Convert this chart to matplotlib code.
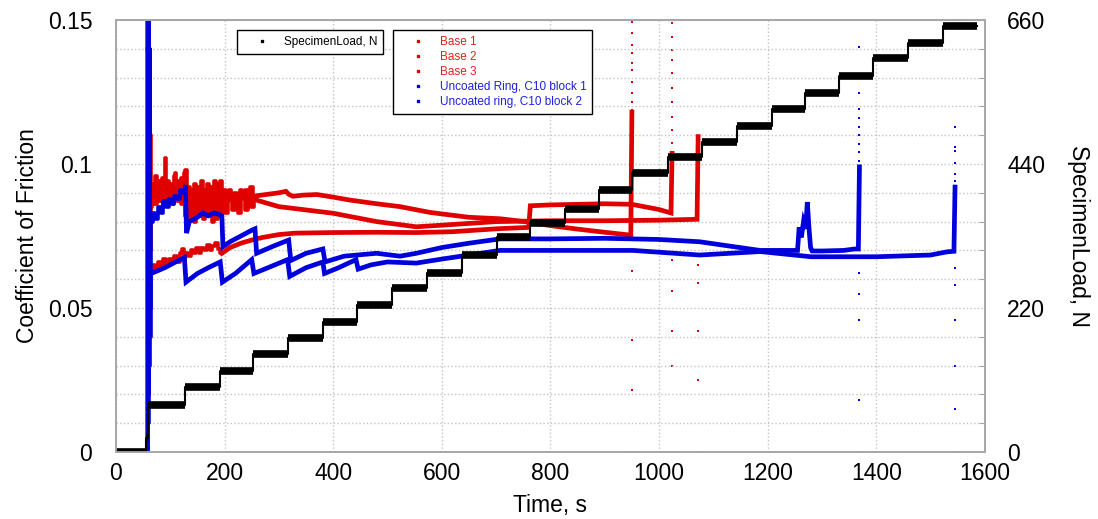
import matplotlib.pyplot as plt
from matplotlib.lines import Line2D
from matplotlib.ticker import MultipleLocator

plt.rcParams["font.family"] = ["Liberation Sans", "DejaVu Sans"]

RED = "#e00000"
BLUE = "#0000dd"

# specimen load, stepped (time s, load N)
load_t = [0, 55, 59, 128, 191, 253, 317, 382, 444, 508, 572, 637, 701, 762, 827,
          890, 950, 1017, 1079, 1144, 1208, 1269, 1332, 1394, 1459, 1523, 1586]
load_n = [0, 21, 72, 99, 124, 150, 174, 198, 225, 250, 274, 301, 328, 350, 372,
          400, 426, 451, 474, 498, 524, 548, 575, 602, 625, 651, 651]

# Base 1 - upper curve early on, stops at ~950 s
base1_t = [57, 58, 59, 60, 61, 62, 63, 64, 65, 68, 71, 74, 77, 80, 83, 86, 89, 91, 93,
           96, 99, 102, 105, 108, 110, 112, 115, 118, 121, 124, 127, 129, 131, 134, 137,
           140, 143, 146, 149, 152, 155, 158, 161, 164, 167, 170, 173, 176, 179, 182,
           185, 188, 191, 194, 197, 200, 205, 210, 215, 220, 225, 230, 235, 240, 245,
           250, 255, 260, 280, 300, 313, 318, 326, 345, 370, 400, 430, 480, 523, 578,
           650, 707, 762, 800, 850, 900, 948, 950]
base1_v = [0.0, 0.16, 0.01, 0.15, 0.03, 0.13, 0.06, 0.11, 0.085, 0.093, 0.086, 0.096,
           0.088, 0.094, 0.087, 0.095, 0.089, 0.102, 0.088, 0.094, 0.087, 0.093, 0.089,
           0.096, 0.097, 0.088, 0.094, 0.087, 0.095, 0.089, 0.097, 0.098, 0.086, 0.092,
           0.083, 0.091, 0.085, 0.093, 0.084, 0.092, 0.086, 0.094, 0.085, 0.091, 0.084,
           0.093, 0.086, 0.092, 0.085, 0.094, 0.088, 0.093, 0.087, 0.094, 0.086, 0.091,
           0.087, 0.091, 0.088, 0.090, 0.087, 0.091, 0.088, 0.091, 0.087, 0.092, 0.088,
           0.089, 0.0895, 0.0900, 0.0905, 0.0895, 0.0888, 0.0892, 0.0894, 0.0885,
           0.0875, 0.0862, 0.0852, 0.0832, 0.0815, 0.0810, 0.0798, 0.0786, 0.0774,
           0.0763, 0.0753, 0.118]
base1_dots = [0.1494, 0.1454, 0.1413, 0.1384, 0.135, 0.1326, 0.1286, 0.1245, 0.1216,
              0.1188, 0.063, 0.039, 0.0215, 0.0]

# Base 2 - middle curve, stops at ~1072 s
base2_t = [58, 59, 60, 61, 62, 63, 65, 69, 73, 77, 81, 85, 89, 93, 97, 101, 105, 109,
           113, 117, 121, 125, 130, 134, 138, 142, 146, 150, 154, 158, 162, 166, 170,
           174, 178, 182, 186, 190, 194, 198, 204, 210, 216, 222, 228, 234, 240, 246,
           252, 258, 300, 400, 480, 553, 620, 700, 800, 900, 1000, 1070, 1072]
base2_v = [0.14, 0.02, 0.12, 0.04, 0.10, 0.07, 0.088, 0.091, 0.086, 0.092, 0.087,
           0.090, 0.086, 0.092, 0.087, 0.091, 0.086, 0.090, 0.087, 0.092, 0.086, 0.090,
           0.082, 0.088, 0.081, 0.087, 0.080, 0.088, 0.082, 0.087, 0.081, 0.088, 0.082,
           0.086, 0.080, 0.087, 0.081, 0.088, 0.082, 0.086, 0.083, 0.089, 0.084, 0.088,
           0.083, 0.089, 0.084, 0.088, 0.085, 0.0875, 0.0852, 0.0829, 0.0800, 0.0782,
           0.0790, 0.0800, 0.0803, 0.0803, 0.0805, 0.0808, 0.1095]
base2_dots = [0.065, 0.0587, 0.042, 0.025, 0.0]

# Base 3 - low curve early on, jumps at ~762 s, stops at ~1024 s
base3_t = [59, 60, 61, 62, 65, 70, 75, 80, 85, 90, 95, 100, 105, 110, 115, 120, 123,
           126, 130, 135, 140, 145, 150, 155, 160, 165, 170, 175, 180, 185, 190, 195,
           210, 230, 250, 270, 300, 330, 400, 480, 553, 620, 700, 760, 763, 800, 900,
           950, 1000, 1022, 1024]
base3_v = [0.03, 0.11, 0.05, 0.063, 0.062, 0.065, 0.063, 0.066, 0.064, 0.067, 0.065,
           0.067, 0.066, 0.068, 0.066, 0.069, 0.0705, 0.067, 0.069, 0.068, 0.070, 0.069,
           0.071, 0.069, 0.071, 0.070, 0.072, 0.070, 0.0715, 0.0725, 0.0705, 0.069,
           0.071, 0.0725, 0.0736, 0.0745, 0.0755, 0.0760, 0.0762, 0.0763, 0.0762,
           0.0765, 0.0775, 0.0780, 0.0855, 0.0858, 0.0862, 0.0860, 0.0842, 0.0830,
           0.1037]
base3_dots = [0.1488, 0.1442, 0.1396, 0.1361, 0.1315, 0.1263, 0.1216, 0.1164, 0.1118,
              0.1072, 0.0667, 0.056, 0.042, 0.030, 0.0]

# Uncoated ring, block 1 - upper blue, spike near 1270 s, stops at ~1369 s
ring1_t = [0, 58, 59, 60, 61, 62, 63, 64, 65, 70, 75, 80, 85, 90, 95, 100, 105, 110,
           115, 120, 125, 128, 130, 135, 140, 150, 160, 170, 180, 190, 195, 197, 210,
           230, 250, 256, 259, 290, 318, 322, 350, 381, 385, 420, 450, 480, 523, 553,
           600, 650, 707, 800, 900, 952, 1000, 1075, 1130, 1186, 1255, 1258, 1262,
           1266, 1270, 1273, 1276, 1279, 1282, 1300, 1340, 1360, 1367, 1369]
ring1_v = [0.0, 0.0, 0.15, 0.01, 0.16, 0.03, 0.14, 0.05, 0.080, 0.083, 0.081, 0.085,
           0.083, 0.087, 0.085, 0.088, 0.086, 0.089, 0.088, 0.091, 0.090, 0.092, 0.076,
           0.080, 0.0805, 0.0815, 0.083, 0.082, 0.083, 0.0825, 0.082, 0.0713, 0.073,
           0.075, 0.077, 0.0775, 0.069, 0.0715, 0.0736, 0.0665, 0.069, 0.0705, 0.066,
           0.068, 0.0685, 0.069, 0.068, 0.069, 0.071, 0.0725, 0.074, 0.074, 0.0742,
           0.074, 0.0738, 0.073, 0.0715, 0.0700, 0.0700, 0.078, 0.0745, 0.080, 0.0775,
           0.0868, 0.078, 0.071, 0.0698, 0.0698, 0.0700, 0.0705, 0.0705, 0.099]
ring1_dots = [0.1407, 0.1303, 0.1248, 0.119, 0.116, 0.113, 0.110, 0.107, 0.104, 0.101,
              0.062, 0.055, 0.046, 0.018, 0.0]

# Uncoated ring, block 2 - lower blue, stops at ~1545 s
ring2_t = [0, 59, 60, 61, 62, 63, 65, 90, 110, 126, 129, 150, 170, 192, 196, 220, 250,
           254, 280, 316, 320, 350, 381, 384, 410, 442, 446, 470, 500, 553, 600, 707,
           800, 952, 1075, 1186, 1280, 1400, 1500, 1530, 1543, 1545]
ring2_v = [0.0, 0.0, 0.14, 0.02, 0.12, 0.04, 0.062, 0.064, 0.066, 0.0675, 0.059, 0.062,
           0.064, 0.066, 0.059, 0.062, 0.0668, 0.062, 0.064, 0.0668, 0.061, 0.064, 0.066,
           0.062, 0.064, 0.0668, 0.0635, 0.065, 0.066, 0.0656, 0.067, 0.070, 0.070,
           0.070, 0.0684, 0.0696, 0.0678, 0.0678, 0.0684, 0.0695, 0.0697, 0.092]
ring2_dots = [0.113, 0.106, 0.1046, 0.1005, 0.0965, 0.0942, 0.0639, 0.058, 0.046,
              0.030, 0.015, 0.0]


def draw_run(ax, t, v, noisy_until, color):
    # noisy start drawn as vertical strokes, the rest as a thick band
    k = max(i for i, x in enumerate(t) if x <= noisy_until)
    ax.plot(t[:k + 1], v[:k + 1], color=color, lw=2.6, drawstyle="steps-mid")
    ax.plot(t[k:], v[k:], color=color, lw=3.4, solid_joinstyle="miter")


fig, ax = plt.subplots(figsize=(10.98, 5.19), dpi=100)
fig.subplots_adjust(left=0.1056, right=0.897, bottom=0.129, top=0.9615)

for t, v, until, end_t, dots in [(base1_t, base1_v, 260, 950, base1_dots),
                                 (base2_t, base2_v, 258, 1072, base2_dots),
                                 (base3_t, base3_v, 195, 1024, base3_dots)]:
    draw_run(ax, t, v, until, RED)
    ax.scatter([end_t] * len(dots), dots, s=3, color=RED, marker="s", lw=0)

for t, v, until, end_t, dots in [(ring1_t, ring1_v, 128, 1369, ring1_dots),
                                 (ring2_t, ring2_v, 65, 1545, ring2_dots)]:
    draw_run(ax, t, v, until, BLUE)
    ax.scatter([end_t] * len(dots), dots, s=3, color=BLUE, marker="s", lw=0)

ax.set_xlim(0, 1600)
ax.set_ylim(0, 0.15)
ax.set_xticks(range(0, 1601, 200))
ax.set_yticks([0, 0.05, 0.1, 0.15])
ax.set_yticklabels(["0", "0.05", "0.1", "0.15"])
ax.yaxis.set_minor_locator(MultipleLocator(0.01))
ax.grid(True, which="both", color="#c4c4c4", linestyle=":", lw=1)
ax.tick_params(axis="both", which="both", length=0, labelsize=16.5)
ax.tick_params(axis="x", pad=7)
ax.tick_params(axis="y", pad=17)
ax.set_xlabel("Time, s", fontsize=16.5, labelpad=7)
ax.set_ylabel("Coefficient of Friction", fontsize=16.5, labelpad=6)

ax2 = ax.twinx()
ax2.step(load_t, load_n, where="post", color="black", lw=1.5)
ax2.hlines(load_n[:-1], load_t[:-1], load_t[1:], color="black", lw=5.5)
ax2.set_ylim(0, 660)
ax2.set_yticks([0, 220, 440, 660])
ax2.yaxis.set_minor_locator(MultipleLocator(44))
ax2.tick_params(axis="y", which="major", length=0, labelsize=16.5, pad=16)
ax2.tick_params(axis="y", which="minor", direction="in", length=4, color="#999999")
ax2.set_ylabel("SpecimenLoad, N", fontsize=16.5, rotation=270, labelpad=32)

for a in (ax, ax2):
    for s in a.spines.values():
        s.set_color("#a8a8a8")
        s.set_linewidth(1.3)

dot = dict(marker="s", markersize=2, linestyle="none")
h1 = [Line2D([], [], color="black", **dot)]
leg1 = ax2.legend(h1, ["SpecimenLoad, N"], loc="upper left",
                  bbox_to_anchor=(237 / 1098, 1 - 30 / 519), bbox_transform=fig.transFigure,
                  fontsize=8.5, fancybox=False, edgecolor="black", framealpha=1,
                  borderaxespad=0, borderpad=0.5, handlelength=3.3, handletextpad=0.15)
leg1.get_frame().set_linewidth(1.0)
ax2.add_artist(leg1)

h2 = [Line2D([], [], color=c, **dot) for c in [RED, RED, RED, BLUE, BLUE]]
labels2 = ["Base 1", "Base 2", "Base 3", "Uncoated Ring, C10 block 1",
           "Uncoated ring, C10 block 2"]
leg2 = ax2.legend(h2, labels2, loc="upper left",
                  bbox_to_anchor=(393 / 1098, 1 - 30 / 519), bbox_transform=fig.transFigure,
                  fontsize=8.5, fancybox=False, edgecolor="black", framealpha=1,
                  borderaxespad=0, borderpad=0.5, handlelength=3.3, handletextpad=0.15,
                  labelspacing=0.25, labelcolor=["#e02020"] * 3 + ["#2020e0"] * 2)
leg2.get_frame().set_linewidth(1.0)

fig.savefig("out.png", dpi=100)
